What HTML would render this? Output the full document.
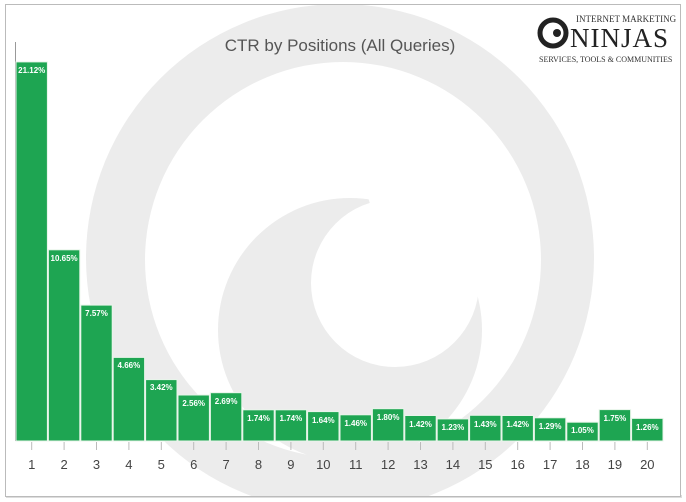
<!DOCTYPE html>
<html><head><style>
html,body{margin:0;padding:0;background:#fff;overflow:hidden;width:686px;height:502px;}
svg{display:block;font-family:"Liberation Sans",sans-serif;}
</style></head><body>
<svg width="686" height="502" viewBox="0 0 686 502">
<defs><clipPath id="c"><rect x="6" y="5" width="674" height="491"/></clipPath></defs>
<rect x="0" y="0" width="686" height="502" fill="#fff"/>
<rect x="6" y="495" width="676" height="3" fill="#ddd"/>
<rect x="5.5" y="4.5" width="675" height="492" fill="#fff" stroke="#bbb" stroke-width="1"/>
<g clip-path="url(#c)">
<circle cx="340" cy="258" r="254" fill="#ececec"/>
<circle cx="343" cy="260" r="198" fill="#fff"/>
<circle cx="350" cy="330" r="132" fill="#ececec"/>
<polygon points="395,283 360,172 500,172 500,283" fill="#fff"/>
<circle cx="395" cy="283" r="84" fill="#fff"/>
</g>
<text x="340" y="51" text-anchor="middle" font-size="17" fill="#555">CTR by Positions (All Queries)</text>
<g>
<circle cx="553" cy="33" r="13" fill="none" stroke="#222" stroke-width="5"/>
<circle cx="557" cy="33" r="4" fill="#222"/>
<text x="576" y="22" font-size="9" fill="#333" font-family="Liberation Serif,serif">INTERNET MARKETING</text>
<text x="570" y="47" font-size="27" fill="#222" font-family="Liberation Serif,serif" letter-spacing="1">NINJAS</text>
<text x="539" y="62" font-size="8" fill="#333" font-family="Liberation Serif,serif">SERVICES, TOOLS &amp; COMMUNITIES</text>
</g>
<line x1="15.5" y1="42" x2="15.5" y2="441" stroke="#999"/>
<g fill="#1ea552" stroke="#e8f5ea" stroke-width="1">
<rect x="16" y="61.9" width="31.4" height="379.1"/>
<rect x="48.4" y="249.8" width="31.4" height="191.2"/>
<rect x="80.8" y="305.1" width="31.4" height="135.9"/>
<rect x="113.2" y="357.4" width="31.4" height="83.6"/>
<rect x="145.6" y="379.6" width="31.4" height="61.4"/>
<rect x="178" y="395" width="31.4" height="46"/>
<rect x="210.4" y="392.7" width="31.4" height="48.3"/>
<rect x="242.8" y="409.8" width="31.4" height="31.2"/>
<rect x="275.2" y="409.8" width="31.4" height="31.2"/>
<rect x="307.6" y="411.6" width="31.4" height="29.4"/>
<rect x="340" y="414.8" width="31.4" height="26.2"/>
<rect x="372.4" y="408.7" width="31.4" height="32.3"/>
<rect x="404.8" y="415.5" width="31.4" height="25.5"/>
<rect x="437.2" y="418.9" width="31.4" height="22.1"/>
<rect x="469.6" y="415.3" width="31.4" height="25.7"/>
<rect x="502" y="415.5" width="31.4" height="25.5"/>
<rect x="534.4" y="417.8" width="31.4" height="23.2"/>
<rect x="566.8" y="422.2" width="31.4" height="18.8"/>
<rect x="599.2" y="409.6" width="31.4" height="31.4"/>
<rect x="631.6" y="418.4" width="31.4" height="22.6"/>
</g>
<g fill="#fff" font-size="8" font-weight="bold" text-anchor="middle">
<text x="31.7" y="73">21.12%</text>
<text x="64.1" y="261">10.65%</text>
<text x="96.5" y="316">7.57%</text>
<text x="128.9" y="368">4.66%</text>
<text x="161.3" y="390">3.42%</text>
<text x="193.7" y="406">2.56%</text>
<text x="226.1" y="404">2.69%</text>
<text x="258.5" y="421">1.74%</text>
<text x="290.9" y="421">1.74%</text>
<text x="323.3" y="423">1.64%</text>
<text x="355.7" y="426">1.46%</text>
<text x="388.1" y="420">1.80%</text>
<text x="420.5" y="427">1.42%</text>
<text x="452.9" y="430">1.23%</text>
<text x="485.3" y="427">1.43%</text>
<text x="517.7" y="427">1.42%</text>
<text x="550.1" y="429">1.29%</text>
<text x="582.5" y="433">1.05%</text>
<text x="614.9" y="421">1.75%</text>
<text x="647.3" y="430">1.26%</text>
</g>
<g stroke="#bbb">
<line x1="31.7" y1="442" x2="31.7" y2="450"/><line x1="64.1" y1="442" x2="64.1" y2="450"/><line x1="96.5" y1="442" x2="96.5" y2="450"/><line x1="128.9" y1="442" x2="128.9" y2="450"/><line x1="161.3" y1="442" x2="161.3" y2="450"/><line x1="193.7" y1="442" x2="193.7" y2="450"/><line x1="226.1" y1="442" x2="226.1" y2="450"/><line x1="258.5" y1="442" x2="258.5" y2="450"/><line x1="290.9" y1="442" x2="290.9" y2="450"/><line x1="323.3" y1="442" x2="323.3" y2="450"/><line x1="355.7" y1="442" x2="355.7" y2="450"/><line x1="388.1" y1="442" x2="388.1" y2="450"/><line x1="420.5" y1="442" x2="420.5" y2="450"/><line x1="452.9" y1="442" x2="452.9" y2="450"/><line x1="485.3" y1="442" x2="485.3" y2="450"/><line x1="517.7" y1="442" x2="517.7" y2="450"/><line x1="550.1" y1="442" x2="550.1" y2="450"/><line x1="582.5" y1="442" x2="582.5" y2="450"/><line x1="614.9" y1="442" x2="614.9" y2="450"/><line x1="647.3" y1="442" x2="647.3" y2="450"/>
</g>
<g fill="#444" font-size="13" text-anchor="middle">
<text x="31.7" y="469">1</text><text x="64.1" y="469">2</text><text x="96.5" y="469">3</text><text x="128.9" y="469">4</text><text x="161.3" y="469">5</text><text x="193.7" y="469">6</text><text x="226.1" y="469">7</text><text x="258.5" y="469">8</text><text x="290.9" y="469">9</text><text x="323.3" y="469">10</text><text x="355.7" y="469">11</text><text x="388.1" y="469">12</text><text x="420.5" y="469">13</text><text x="452.9" y="469">14</text><text x="485.3" y="469">15</text><text x="517.7" y="469">16</text><text x="550.1" y="469">17</text><text x="582.5" y="469">18</text><text x="614.9" y="469">19</text><text x="647.3" y="469">20</text>
</g>
</svg>
</body></html>
